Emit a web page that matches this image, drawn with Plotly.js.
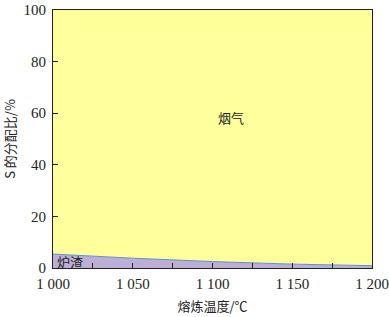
<!DOCTYPE html>
<html><head><meta charset="utf-8">
<script src="https://cdn.plot.ly/plotly-3.0.1.min.js"></script>
<style>html,body{margin:0;padding:0;background:#fff}#c{width:389px;height:317px}</style>
</head><body><div id="c"></div>
<script>
const temps = [1000, 1050, 1100, 1150, 1200];
const slag = [5.4, 3.8, 2.5, 1.5, 0.9];
const gas = [94.6, 96.2, 97.5, 98.5, 99.1];
const xTickVals = [1000, 1050, 1100, 1150, 1200];
const xTickText = ['1 000', '1 050', '1 100', '1 150', '1 200'];
const labels = {slag: '炉渣', gas: '烟气', xTitle: '熔炼温度/℃', yTitle: 'S 的分配比/%'};

const serif = 'Liberation Serif';
const cjk = 'Noto Sans CJK SC';

const data = [
  {x: temps, y: slag, type: 'scatter', mode: 'lines', stackgroup: 'a',
   line: {color: '#5b8fd6', width: 1}, fillcolor: '#bcaed4', hoverinfo: 'skip'},
  {x: temps, y: gas, type: 'scatter', mode: 'lines', stackgroup: 'a',
   line: {color: 'rgba(0,0,0,0)', width: 0}, fillcolor: '#ffff9c', hoverinfo: 'skip'}
];
const layout = {
  width: 389, height: 317,
  margin: {l: 53, r: 17, t: 10, b: 49},
  paper_bgcolor: '#fff', plot_bgcolor: '#fff',
  showlegend: false,
  xaxis: {range: [1000, 1200], tickmode: 'array', tickvals: xTickVals, ticktext: xTickText,
    ticks: 'inside', ticklen: 5, tickcolor: '#222', showgrid: false, zeroline: false,
    showline: true, linecolor: '#222', linewidth: 1, mirror: true, ticklabelstandoff: 2,
    minor: {ticks: 'inside', ticklen: 5, dtick: 25, tick0: 1000, tickcolor: '#222', showgrid: false},
    tickfont: {family: serif, size: 15, color: '#222'},
    title: {text: labels.xTitle, font: {family: cjk, size: 13, color: '#222'}, standoff: 10}},
  yaxis: {range: [0, 100], dtick: 20, ticks: 'inside', ticklen: 5, tickcolor: '#222',
    showgrid: false, zeroline: false, showline: true, linecolor: '#222', linewidth: 1, mirror: true,
    ticklabelstandoff: 3,
    tickfont: {family: serif, size: 15, color: '#222'},
    title: {text: labels.yTitle, font: {family: cjk, size: 13, color: '#222'}, standoff: 12}},
  annotations: [
    {x: 1111.6, y: 58.5, xref: 'x', yref: 'y', text: labels.gas, showarrow: false,
     font: {family: cjk, size: 13, color: '#222'}},
    {x: 1010.7, y: 2.6, xref: 'x', yref: 'y', text: labels.slag, showarrow: false,
     font: {family: cjk, size: 13, color: '#222'}}
  ]
};
Plotly.newPlot('c', data, layout, {staticPlot: true, displayModeBar: false});
</script></body></html>
